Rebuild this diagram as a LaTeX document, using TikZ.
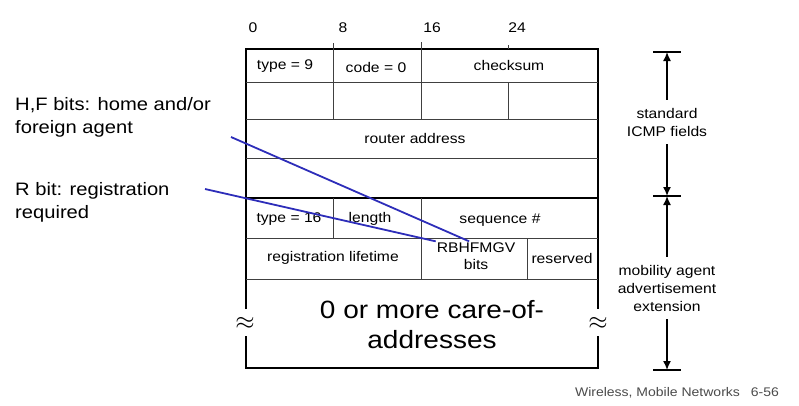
\documentclass[tikz,border=0pt]{standalone}
\usepackage{fontspec}
\setmainfont{Liberation Sans}[FakeStretch=1.12]
\usetikzlibrary{arrows.meta}
\definecolor{penblue}{RGB}{45,45,185}
\definecolor{footgray}{RGB}{75,75,75}

\begin{document}
\begin{tikzpicture}[x=1pt, y=-1pt, >={Latex[length=9pt,width=8pt]},
	field/.style={font=\fontsize{14}{17}\selectfont, align=center, inner sep=1pt},
	bigfield/.style={font=\fontsize{25}{30}\selectfont, align=center, inner sep=1pt},
	note/.style={font=\fontsize{18}{23}\selectfont, align=left, anchor=west, inner sep=0pt},
	side/.style={font=\fontsize{14}{18}\selectfont, align=center, inner sep=8pt},
	wave/.style={font=\fontsize{34}{34}\selectfont, inner sep=0pt},
	frame/.style={line width=2pt},
	cell/.style={line width=0.8pt, black!75},
	pointer/.style={penblue, line width=1.8pt},
	bar/.style={line width=1.5pt}]
	\useasboundingbox (0,0) rectangle (799,405);

	\node[field] (bit0) at (253,28) {0};
	\node[field] (bit8) at (343,28) {8};
	\node[field] (bit16) at (432,28) {16};
	\node[field] (bit24) at (517,28) {24};

	\draw[frame] (246,309) -- (246,49) -- (598,49) -- (598,309);
	\draw[frame] (246,336) -- (246,368) -- (598,368) -- (598,336);
	\draw[frame] (246,198) -- (598,198);
	\draw[cell] (246,82) -- (598,82) (246,119) -- (598,119) (246,158) -- (598,158);
	\draw[cell] (246,238) -- (598,238) (246,279) -- (598,279);
	\draw[cell] (333,43) -- (333,119) (421,42) -- (421,119) (508,45) -- (508,49) (508,82) -- (508,119);
	\draw[cell] (333,198) -- (333,238) (421,198) -- (421,279) (527,238) -- (527,279);

	\node[field] (type9) at (285,66) {type = 9};
	\node[field] (code) at (376,67) {code = 0};
	\node[field] (checksum) at (509,65) {checksum};
	\node[field] (router) at (415,138) {router address};
	\node[field] (type16) at (289,219) {type = 16};
	\node[field] (length) at (370,219) {length};
	\node[field] (seqno) at (500,220) {sequence \#};
	\node[field] (lifetime) at (333,258) {registration lifetime};
	\node[field] (rbits) at (476,256) {RBHFMGV\\bits};
	\node[field] (reserved) at (562,258) {reserved};
	\node[bigfield] (careof) at (432,325) {0 or more care-of-\\addresses};
	\node[wave] (waveL) at (245,323) {$\approx$};
	\node[wave] (waveR) at (598,323) {$\approx$};

	\node[note] (hfnote) at (15,117) {H,F bits: home and/or\\foreign agent};
	\node[note] (rnote) at (15,202) {R bit: registration\\required};
	\coordinate (hfend) at (231,137);
	\coordinate (rend) at (205,189);
	\draw[pointer] (hfend) -- (rbits.115);
	\draw[pointer] (rend) -- (rbits.160);

	\node[side] (icmp) at (667,122) {standard\\ICMP fields};
	\node[side] (mobility) at (667,288) {mobility agent\\advertisement\\extension};
	\coordinate (topbar) at (667,52);
	\coordinate (midbar) at (667,196);
	\coordinate (botbar) at (667,370);
	\draw[bar] (653,52) -- (681,52) (653,196) -- (681,196) (653,370) -- (681,370);
	\draw[bar, ->] (icmp) -- (topbar);
	\draw[bar, ->] (icmp) -- (midbar);
	\draw[bar, ->] (mobility) -- (midbar);
	\draw[bar, ->] (mobility) -- (botbar);

	\node[font=\fontsize{12.5}{15}\selectfont, text=footgray] (footer) at (677,393) {Wireless, Mobile Networks\hspace{11pt}6-56};
\end{tikzpicture}
\end{document}
